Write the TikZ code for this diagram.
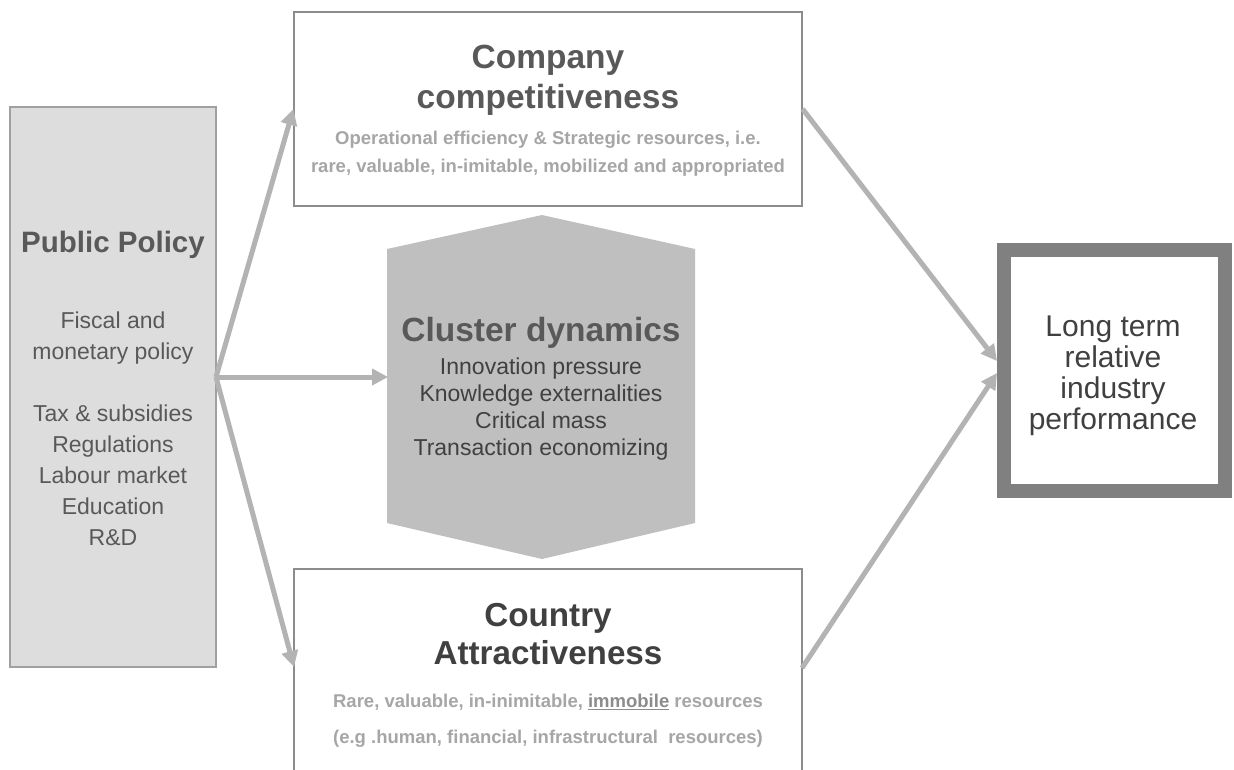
\documentclass[tikz,border=0pt]{standalone}
\usepackage{fontspec}
\setmainfont{Liberation Sans}
\usetikzlibrary{arrows.meta}
\definecolor{ppfill}{HTML}{DDDDDD}
\definecolor{ppline}{HTML}{A0A0A0}
\definecolor{boxline}{HTML}{8C8C8C}
\definecolor{arrowc}{HTML}{B3B3B3}
\definecolor{hexc}{HTML}{BFBFBF}
\definecolor{darkA}{HTML}{595959}
\definecolor{darkB}{HTML}{404040}
\definecolor{lightt}{HTML}{A6A6A6}
\definecolor{immc}{HTML}{8C8C8C}
\definecolor{perfline}{HTML}{808080}
\begin{document}
\begin{tikzpicture}[x=1pt,y=-1pt,
  ppbox/.style={draw=ppline,fill=ppfill,line width=1.2pt,minimum width=206pt,minimum height=560pt,inner sep=0pt},
  wbox/.style={draw=boxline,fill=white,line width=1.2pt,minimum width=508pt,inner sep=0pt},
  perfbox/.style={draw=perfline,fill=white,line width=14pt,minimum width=221pt,minimum height=241pt,inner sep=0pt},
  txt/.style={inner sep=0pt,align=center},
  ttl/.style={txt,font=\fontsize{33.5}{40}\selectfont\bfseries,text=darkA},
  sub/.style={txt,font=\fontsize{18.5}{28}\selectfont\bfseries,text=lightt},
  body/.style={txt,font=\fontsize{23}{31}\selectfont,text=darkA},
  arr/.style={draw=arrowc,line width=5pt,-{Triangle[length=16pt,width=16pt]}}
]
\useasboundingbox[fill=white] (0,0) rectangle (1234,769);

% boxes
\node[ppbox] (pp) at (113,387) {};
\node[wbox,minimum height=194pt] (comp) at (548,109) {};
\node[wbox,minimum height=221pt] (coun) at (548,679.5) {};
\node[perfbox] (perf) at (1114.5,370.5) {};
\path[fill=hexc] (542,215) -- (695,249) -- (695,523) -- (542,559) -- (387,523) -- (387,249) -- cycle;

% texts
\node[ttl,font=\fontsize{29.5}{34}\selectfont\bfseries] (pptitle) at (113,245) {Public Policy};
\node[body] (pplist) at (113,429) {Fiscal and\\monetary policy\\[31pt]Tax \& subsidies\\Regulations\\Labour market\\Education\\R\&D};

\node[ttl] (comptitle) at (548,80) {Company\\competitiveness};
\node[sub] (compsub) at (548,154) {Operational efficiency \& Strategic resources, i.e.\\rare, valuable, in-imitable, mobilized and appropriated};

\node[ttl] (clutitle) at (541,333) {Cluster dynamics};
\node[body,font=\fontsize{23}{27.3}\selectfont,text=darkB] (clusub) at (541,409) {Innovation pressure\\Knowledge externalities\\Critical mass\\Transaction economizing};

\node[ttl,font=\fontsize{33.2}{38}\selectfont\bfseries,text=darkB] (countitle) at (548,634) {Country\\Attractiveness};
\node[sub,font=\fontsize{18.5}{36}\selectfont\bfseries] (counsub) at (548,721) {Rare, valuable, in-inimitable, \textcolor{immc}{\underline{immobile}} resources\\(e.g .human, financial, infrastructural\ \ resources)};

\node[body,font=\fontsize{30}{31}\selectfont,text=darkB] (perftext) at (1113,376) {Long term\\relative\\industry\\performance};

% connectors
\coordinate (src) at (216,377);
\coordinate (cluW) at (388,377);
\coordinate (counIn) at (294,667);
\coordinate (counOut) at (802,668);
\coordinate (perfIn1) at (997,361);
\coordinate (perfIn2) at (997,373);
\draw[arr] (src) -- (comp.west);
\draw[arr] (src) -- (cluW);
\draw[arr] (src) -- (counIn);
\draw[arr] (comp.east) -- (perfIn1);
\draw[arr] (counOut) -- (perfIn2);
\end{tikzpicture}
\end{document}
